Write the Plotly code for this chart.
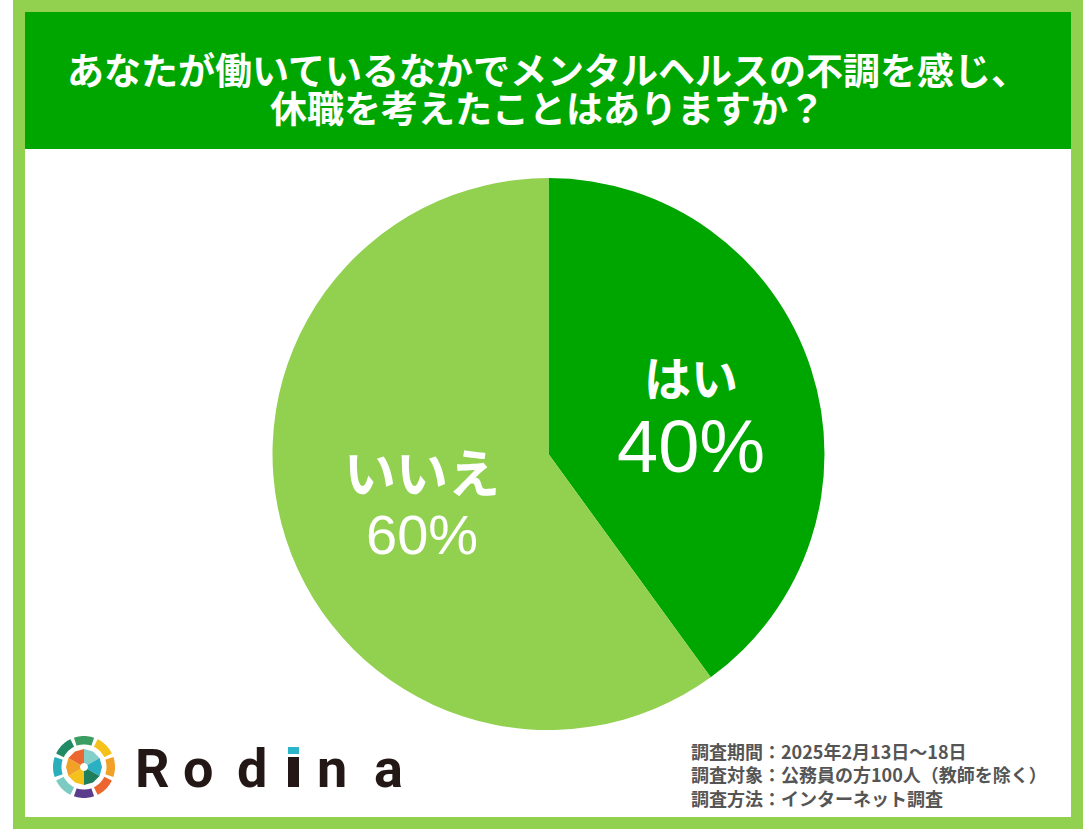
import math
import plotly.graph_objects as go

W, H = 1091, 832

# ---- data ----
labels = ["はい", "いいえ"]
values = [40, 60]
slice_colors = ["#00A600", "#92D050"]
title_lines = ["あなたが働いているなかでメンタルヘルスの不調を感じ、", "休職を考えたことはありますか？"]
notes = ["調査期間：2025年2月13日～18日",
         "調査対象：公務員の方100人（教師を除く）",
         "調査方法：インターネット調査"]
brand = ["R", "o", "d", "ı", "n", "a"]

LIGHT = "#92D050"
DARK = "#00A600"


def X(px):
    return px / W


def Y(py):
    return 1 - py / H


def rect(x0, y0, x1, y1, color, layer="below"):
    return dict(type="rect", xref="paper", yref="paper", x0=X(x0), x1=X(x1),
                y0=Y(y1), y1=Y(y0), fillcolor=color, line=dict(width=0), layer=layer)


def sector(cx, cy, r_in, r_out, a0, a1, color, n=12):
    pts = []
    for i in range(n + 1):
        a = math.radians(a0 + (a1 - a0) * i / n)
        pts.append((cx + r_out * math.sin(a), cy - r_out * math.cos(a)))
    for i in range(n, -1, -1):
        a = math.radians(a0 + (a1 - a0) * i / n)
        pts.append((cx + r_in * math.sin(a), cy - r_in * math.cos(a)))
    path = "M " + " L ".join(f"{X(px):.5f},{Y(py):.5f}" for px, py in pts) + " Z"
    return dict(type="path", xref="paper", yref="paper", path=path,
                fillcolor=color, line=dict(width=0), layer="above")


shapes = [
    rect(13, 0, 1083, 829, LIGHT),
    rect(25, 12, 1071, 817, "white"),
    rect(25, 12, 1071, 149, DARK),
]

# logo
lcx, lcy = 84, 767
ring_cols = ["#3A9E62", "#F5C21B", "#F2A127", "#EC6730", "#5B3D8C", "#7CCBC3", "#2BAEBB", "#1F8A63"]
for i, c in enumerate(ring_cols):
    mid = i * 45
    shapes.append(sector(lcx, lcy, 22.5, 31, mid - 19, mid + 19, c))
blade_cols = ["#84CFC9", "#2AAFC3", "#1F7F5C", "#F5C21B", "#F2A127", "#EC6730"]
for i, c in enumerate(blade_cols):
    mid = 30 + i * 60
    shapes.append(sector(lcx, lcy, 4, 18, mid - 30, mid + 30, c, n=2))
# i stem and dot in brand name
shapes.append(rect(288, 757, 299, 787, "#231815", layer="above"))
shapes.append(rect(288, 747, 299, 754, "#2BB5C8", layer="above"))

fig = go.Figure()
fig.add_trace(go.Pie(
    labels=labels, values=values, sort=False, direction="clockwise", rotation=0,
    marker=dict(colors=slice_colors, line=dict(width=0)),
    textinfo="none", hoverinfo="skip", showlegend=False,
    domain=dict(x=[X(272), X(825)], y=[Y(730), Y(178)]),
))

annotations = []
for i, line in enumerate(title_lines):
    annotations.append(dict(text=line, x=X(547), y=Y(69 + 38 * i), xref="paper", yref="paper",
                            showarrow=False, xanchor="center", yanchor="middle",
                            font=dict(family="Noto Sans CJK JP", size=37, color="white", weight="bold")))

label_pos = [(691, 375, 446, 47, 74), (422, 470, 534, 52, 56)]
for (lab, val), (px, py1, py2, s1, s2) in zip(zip(labels, values), label_pos):
    annotations.append(dict(text=lab, x=X(px), y=Y(py1), xref="paper", yref="paper",
                            showarrow=False, xanchor="center", yanchor="middle",
                            font=dict(family="Noto Sans CJK JP", size=s1, color="white", weight="bold")))
    annotations.append(dict(text=f"{val}%", x=X(px), y=Y(py2), xref="paper", yref="paper",
                            showarrow=False, xanchor="center", yanchor="middle",
                            font=dict(family="Liberation Sans", size=s2, color="white")))

annotations.append(dict(text="<br>".join(notes), x=X(689), y=Y(774), xref="paper", yref="paper",
                        showarrow=False, xanchor="left", yanchor="middle", align="left",
                        font=dict(family="Noto Sans CJK JP", size=18, color="#555555", weight="bold")))

brand_x = [153, 198, 252, 294, 332, 388]
for ch, bx in zip(brand, brand_x):
    if ch == "ı":
        continue
    annotations.append(dict(text=ch, x=X(bx), y=Y(768), xref="paper", yref="paper",
                            showarrow=False, xanchor="center", yanchor="middle",
                            font=dict(family="Roboto", size=54, color="#231815", weight="bold")))

fig.update_layout(
    width=W, height=H, margin=dict(l=0, r=0, t=0, b=0),
    paper_bgcolor="white", plot_bgcolor="rgba(0,0,0,0)",
    shapes=shapes, annotations=annotations,
)
fig.write_html("out.html", config={"displayModeBar": False},
               post_script="document.body.style.margin='0px';")
